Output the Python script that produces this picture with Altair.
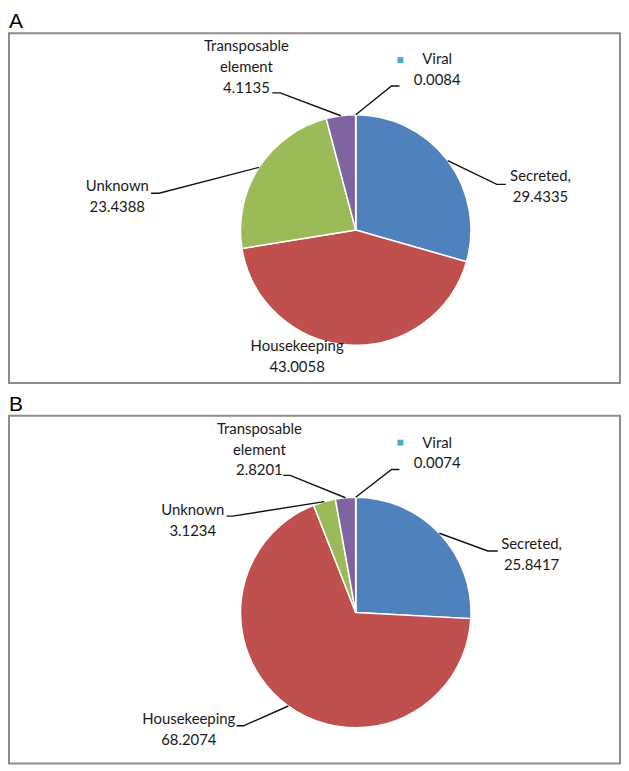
import math
import altair as alt
import pandas as pd

# ---------------- data ----------------
categories = ["Secreted", "Housekeeping", "Unknown", "Transposable element", "Viral"]
label_names = ["Secreted,", "Housekeeping", "Unknown", "Transposable\nelement", "Viral"]
values_a = [29.4335, 43.0058, 23.4388, 4.1135, 0.0084]
values_b = [25.8417, 68.2074, 3.1234, 2.8201, 0.0074]
colors = ["#4F81BD", "#C0504D", "#9BBB59", "#8064A2", "#4BACC6"]

# ---------------- layout (pixels inside each panel box) ----------------
PANEL_W = 615
CX, CY, R = 349, 198, 116

label_pos_a = {
    "Secreted": (535, 137),
    "Housekeeping": (290, 308),
    "Unknown": (109, 147),
    "Transposable element": (239, 6),
    "Viral": (431, 19),
}
label_pos_b = {
    "Secreted": (526, 122),
    "Housekeeping": (181, 298),
    "Unknown": (185, 88),
    "Transposable element": (252, 6),
    "Viral": (431, 20),
}
leader_a = {
    "Secreted": [(491, 152), (500, 152)],
    "Unknown": [(151, 161), (143, 161)],
    "Transposable element": [(273, 60), (265, 60)],
    "Viral": [(385, 53), (393, 53)],
}
leader_b = {
    "Secreted": [(482, 136), (492, 136)],
    "Unknown": [(225, 101), (219, 101)],
    "Transposable element": [(283, 60), (276, 60)],
    "Viral": [(385, 54), (393, 54)],
    "Housekeeping": [(236, 312), (229, 312)],
}
marker_pos = (394, 27)


def make_panel(values, letter, height, label_pos, leaders):
    xs = alt.Scale(domain=[0, PANEL_W], nice=False, zero=False)
    ys = alt.Scale(domain=[height, 0], nice=False, zero=False)

    pie_df = pd.DataFrame({
        "category": categories,
        "value": values,
        "idx": list(range(len(categories))),
    })

    # leader lines: start on the pie edge at the slice's mid angle
    total = sum(values)
    cum = 0.0
    rows = []
    text_rows = []
    for cat, name, v in zip(categories, label_names, values):
        mid = (cum + v / 2.0) / total
        cum += v
        ang = mid * 2 * math.pi
        ex = CX + R * math.sin(ang)
        ey = CY - R * math.cos(ang)
        if cat in leaders:
            pts = [(ex, ey)] + leaders[cat]
            for k, (px, py) in enumerate(pts):
                rows.append({"category": cat, "k": k, "x": px, "y": py})
        lx, ly = label_pos[cat]
        text_rows.append({"category": cat, "x": lx, "y": ly,
                          "label": f"{name}\n{v:.4f}"})
    line_df = pd.DataFrame(rows)
    text_df = pd.DataFrame(text_rows)
    marker_df = pd.DataFrame({"x": [marker_pos[0]], "y": [marker_pos[1]]})

    arc = alt.Chart(pie_df).mark_arc(
        outerRadius=R, stroke="white", strokeWidth=1.5
    ).encode(
        theta=alt.Theta("value:Q", stack=True),
        color=alt.Color("category:N", scale=alt.Scale(domain=categories, range=colors), legend=None),
        order=alt.Order("idx:Q"),
        x=alt.XDatum(CX, type="quantitative", scale=xs, axis=None),
        y=alt.YDatum(CY, type="quantitative", scale=ys, axis=None),
    )

    lines = alt.Chart(line_df).mark_line(color="#111111", strokeWidth=1.4).encode(
        x=alt.X("x:Q", scale=xs, axis=None),
        y=alt.Y("y:Q", scale=ys, axis=None),
        detail="category:N",
        order="k:Q",
    )

    text = alt.Chart(text_df).mark_text(
        align="center", baseline="top", lineBreak="\n",
        font="Lato", fontSize=15, lineHeight=21, color="#1a1a1a",
    ).encode(
        x=alt.X("x:Q", scale=xs, axis=None),
        y=alt.Y("y:Q", scale=ys, axis=None),
        text="label:N",
    )

    marker = alt.Chart(marker_df).mark_square(size=36, color="#4BACC6", opacity=1).encode(
        x=alt.X("x:Q", scale=xs, axis=None),
        y=alt.Y("y:Q", scale=ys, axis=None),
    )

    return alt.layer(arc, lines, text, marker).properties(
        width=PANEL_W, height=height,
        title=alt.TitleParams(letter, anchor="start", fontSize=21, font="Liberation Sans",
                              fontWeight="normal", color="#000000", offset=1),
    )


panel_a = make_panel(values_a, "A", 352, label_pos_a, leader_a)
panel_b = make_panel(values_b, "B", 350, label_pos_b, leader_b)

chart = alt.vconcat(panel_a, panel_b, spacing=9).properties(padding=0).configure_view(
    stroke="#8c8c8c", strokeWidth=2
)

chart.save("out.html", embed_options={"renderer": "svg", "actions": False})
